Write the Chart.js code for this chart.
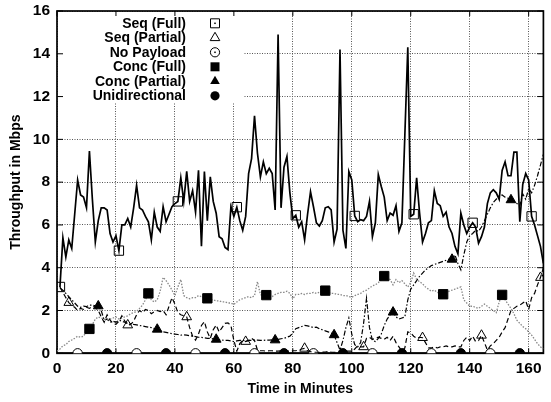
<!DOCTYPE html>
<html>
<head>
<meta charset="utf-8">
<script src="https://cdn.jsdelivr.net/npm/chart.js@4/dist/chart.umd.min.js"></script>
<style>
  html, body { margin: 0; padding: 0; background: #fff; }
  #wrap { width: 551px; height: 402px; }
</style>
</head>
<body>
<div id="wrap"><canvas id="c" width="551" height="402"></canvas></div>
<script>
// Tick values
const xTicks = [0, 20, 40, 60, 80, 100, 120, 140, 160];
const yTicks = [0, 2, 4, 6, 8, 10, 12, 14, 16];

// Sample times (one sample per minute, 0..165)
const minutes = Array.from({ length: 166 }, (_, i) => i);

// Throughput in Mbps per minute
const seqFull = [
  null, 3.1, 5.4, 4.5, 5.3, 4.9, 6.5, 8.1, 7.4, 7.3,
  6.8, 9.45, 7.2, 5.2, 6.2, 6.8, 6.8, 6.7, 5.6, 5.2,
  5.5, 4.8, 6.0, 6.0, 6.3, 5.9, 6.8, 7.85, 6.8, 6.7,
  6.4, 6.15, 5.3, 6.6, 5.9, 5.7, 6.85, 6.15, 6.5, 6.85,
  7.0, 7.1, 8.2, 7.1, 8.5, 7.1, 7.6, 6.6, 8.55, 5.0,
  8.5, 6.2, 8.25, 7.1, 6.55, 5.45, 5.35, 4.95, 4.85, 6.85,
  6.4, 6.83, 6.2, 5.75, 6.4, 8.4, 9.1, 11.1, 9.35, 8.25,
  8.95, 8.4, 8.65, 8.4, 6.7, 14.9, 6.8, 8.7, 9.2, 7.5,
  6.3, 6.45, 5.9, 6.15, 5.3, 6.5, 7.55, 6.85, 6.1, 5.95,
  6.2, 6.8, 6.85, 6.7, 5.2, 5.8, 14.2, 5.75, 4.9, 8.5,
  8.1, 6.42, 6.15, 6.25, 6.2, 6.4, 7.1, 5.45, 6.1, 8.35,
  7.8, 7.3, 6.2, 6.55, 6.45, 6.9, 5.7, 6.1, 10.2, 14.3,
  6.4, 6.5, 8.2, 6.55, 5.2, 5.6, 6.1, 6.2, 7.6, 7.0,
  6.9, 6.4, 6.6, 5.9, 5.6, 5.0, 4.65, 6.55, 6.0, 5.6,
  5.9, 6.1, 5.9, 5.15, 5.45, 5.9, 7.0, 7.5, 7.65, 7.5,
  7.2, 8.55, 8.95, 8.3, 8.3, 9.4, 9.4, 6.15, 7.9, 8.4,
  8.1, 6.4, 6.0, 5.5, 5.0, 4.2
];

const seqPartial = [
  null, 3.1, 2.85, 2.6, 2.37, 2.25, 2.15, 2.0, 2.1, 2.05,
  2.15, 2.1, 2.2, 2.15, 2.0, 1.7, 1.45, 1.8, 1.55, 1.4,
  1.35, 1.5, 1.75, 1.5, 1.32, 1.35, 1.5, 1.8, 2.0, 1.9,
  2.05, 2.0, 1.85, 1.95, 2.0, 1.95, 2.0, 1.8, 2.2, 2.6,
  2.3, 1.9, 1.8, 1.75, 1.7, 1.2, 0.8, 0.62, 0.9, 1.3,
  1.48, 1.0, 0.7, 1.1, 1.32, 1.0, 1.2, 1.4, 1.42, 1.3,
  0.6, 0.1, 0.45, 0.6, 0.55, 0.6, 0.7, 0.6, 0.15, 0.12,
  0.12, 0.1, 0.12, 0.12, 0.1, 0.1, 0.12, 0.12, 0.1, 0.1,
  0.12, 0.12, 0.15, 0.2, 0.23, 0.12, 0.08, 0.05, 0.05, 0.05,
  0.05, 0.06, 0.08, 0.06, 0.05, 0.05, 0.05, 0.06, 0.1, 0.1,
  0.1, 0.2, 0.35, 0.3, 0.3, 0.7, 0.75, 0.65, 0.7, 0.75,
  0.7, 0.65, 0.75, 0.6, 0.8, 0.5, 0.3, 0.1, 0.25, 1.0,
  0.95, 0.8, 0.7, 0.75, 0.73, 0.5, 0.25, 0.25, 0.3, 0.25,
  0.3, 0.3, 0.35, 0.3, 0.3, 0.35, 0.3, 0.3, 0.6, 0.75,
  0.6, 0.8, 0.55, 0.6, 0.84, 0.5, 0.15, 0.35, 0.45, 0.6,
  0.75, 1.0, 1.2, 1.6, 2.0, 2.1, 2.2, 2.25, 2.35, 2.45,
  2.05, 2.6, 2.8, 3.2, 3.54, 4.0
];

const concFull = [
  0.1, 0.2, 0.35, 0.4, 0.55, 0.62, 0.7, 0.8, 0.75, 0.8,
  1.0, 1.14, 1.35, 1.6, 1.7, 1.65, 1.6, 1.55, 1.6, 1.65,
  1.7, 1.6, 1.65, 1.7, 1.75, 1.85, 1.9, 1.95, 2.1, 2.25,
  2.5, 2.8, 2.5, 2.4, 2.5, 2.9, 3.55, 3.4, 3.2, 2.95,
  2.7, 3.1, 3.45, 2.7, 2.6, 2.55, 2.6, 2.6, 2.7, 2.65,
  2.6, 2.57, 2.5, 2.5, 2.45, 2.45, 2.4, 2.4, 2.35, 2.35,
  2.28, 2.4, 2.5, 2.55, 2.6, 2.65, 2.6, 2.7, 3.35, 2.75,
  2.7, 2.72, 2.7, 2.65, 2.75, 2.8, 2.85, 2.85, 2.9, 2.8,
  2.55, 2.75, 2.75, 2.8, 2.75, 2.8, 2.8, 2.85, 2.8, 2.85,
  2.9, 2.93, 2.85, 2.8, 2.8, 2.75, 2.75, 2.7, 2.7, 2.65,
  2.62, 2.7, 2.75, 2.8, 2.9, 2.95, 3.05, 3.15, 3.2, 3.3,
  3.45, 3.61, 3.5, 3.45, 3.2, 3.45, 3.3, 3.4, 3.25, 3.1,
  3.3, 3.75, 3.45, 3.35, 3.25, 3.1, 3.0, 2.9, 2.95, 2.85,
  2.8, 2.76, 2.85, 2.9, 2.95, 3.0, 3.05, 3.1, 2.5, 2.35,
  2.2, 2.2, 2.15, 2.1, 2.2, 2.3, 2.2, 2.1, 2.0, 1.9,
  2.4, 2.73, 2.5, 2.3, 2.1, 1.85, 1.55, 1.4, 1.25, 1.15,
  1.0, 0.85, 0.65, 0.45, 0.3, 0.2
];

const concPartial = [
  null, 3.05, 2.95, 2.8, 2.65, 2.5, 2.35, 2.2, 2.15, 2.2,
  2.18, 2.25, 2.25, 2.22, 2.21, 2.0, 1.55, 1.6, 1.45, 1.5,
  1.45, 1.55, 1.5, 1.45, 1.4, 1.38, 1.35, 1.33, 1.3, 1.28,
  1.25, 1.22, 1.2, 1.15, 1.12, 1.05, 1.0, 0.98, 0.95, 0.92,
  0.9, 0.88, 0.85, 0.86, 0.85, 0.82, 0.8, 0.78, 0.75, 0.74,
  0.72, 0.7, 0.7, 0.68, 0.65, 0.64, 0.62, 0.6, 0.6, 0.58,
  0.55, 0.58, 0.6, 0.6, 0.58, 0.6, 0.6, 0.62, 0.62, 0.6,
  0.6, 0.62, 0.62, 0.63, 0.62, 0.65, 0.68, 0.7, 0.75, 0.8,
  0.95, 1.15, 1.2, 1.25, 1.3, 1.28, 1.25, 1.2, 1.22, 1.15,
  1.1, 1.05, 1.0, 0.95, 0.86, 0.5, 0.15, 0.6, 1.2, 1.65,
  0.9, 0.4, 0.3, 0.5, 1.4, 2.57, 1.2, 0.6, 0.55, 0.7,
  0.9, 1.3, 1.6, 1.8, 1.92, 1.7, 1.6, 1.65, 1.7, 2.5,
  3.0, 3.2, 3.4, 3.6, 3.75, 3.9, 4.0, 4.1, 4.15, 4.2,
  4.25, 4.3, 4.35, 4.4, 4.39, 4.6, 4.2, 3.9, 4.6, 5.2,
  5.5, 5.6, 5.75, 5.7, 5.9, 6.2, 6.5, 6.8, 7.05, 7.2,
  7.35, 7.4, 7.3, 7.25, 7.17, 7.1, 7.0, 6.9, 7.45, 7.2,
  7.7, 7.5, 7.85, 8.3, 8.8, 9.3
];

// Runs that stayed at zero throughout
const noPayloadMin = [0, 7, 27, 47, 67, 87, 107, 127, 147, 165];
const noPayload = [0, 0, 0, 0, 0, 0, 0, 0, 0, 0];
const uniMin = [0, 17, 37, 57, 77, 97, 117, 137, 157, 165];
const uni = [0, 0, 0, 0, 0, 0, 0, 0, 0, 0];

const FONT = '"Liberation Sans", Arial, Helvetica, sans-serif';

function pts(xs, ys) {
  const out = [];
  xs.forEach((x, i) => { if (ys[i] !== null) out.push({ x, y: ys[i] }); });
  return out;
}

// A marker every 20 minutes, starting at a per-series offset
function markEvery(offset, r) {
  return ctx => (ctx.raw && (ctx.raw.x - offset) % 20 === 0) ? r : 0;
}

const marks = [
  { shape: 'rect', filled: false },
  { shape: 'triangle', filled: false },
  { shape: 'circle', filled: false },
  { shape: 'rect', filled: true },
  { shape: 'triangle', filled: true },
  { shape: 'circle', filled: true }
];

function drawMark(ctx, m, cx, cy) {
  ctx.beginPath();
  if (m.shape === 'rect') ctx.rect(cx - 4.5, cy - 4.5, 9, 9);
  else if (m.shape === 'triangle') {
    ctx.moveTo(cx, cy - 5.5);
    ctx.lineTo(cx + 4.8, cy + 2.8);
    ctx.lineTo(cx - 4.8, cy + 2.8);
    ctx.closePath();
  } else ctx.arc(cx, cy, 4.6, 0, Math.PI * 2);
  if (m.filled) {
    ctx.fillStyle = '#000';
    ctx.fill();
  } else {
    ctx.lineWidth = 1;
    ctx.strokeStyle = '#000';
    ctx.stroke();
    if (m.shape !== 'triangle') {
      ctx.fillStyle = '#000';
      ctx.fillRect(cx - 0.75, cy - 0.75, 1.5, 1.5);
    }
  }
}

const frame = {
  id: 'frame',
  beforeDatasetsDraw(chart) {
    const { ctx, chartArea: a, scales: { x, y } } = chart;
    ctx.save();
    // opaque key area
    ctx.fillStyle = '#fff';
    ctx.fillRect(a.left + 1, a.top + 1, 243 - a.left, 101 - a.top);
    // inward tick marks on all four sides
    ctx.strokeStyle = '#000';
    ctx.lineWidth = 1;
    ctx.beginPath();
    xTicks.forEach(v => {
      const px = x.getPixelForValue(v);
      ctx.moveTo(px, a.bottom); ctx.lineTo(px, a.bottom - 5);
      ctx.moveTo(px, a.top); ctx.lineTo(px, a.top + 5);
    });
    yTicks.forEach(v => {
      const py = y.getPixelForValue(v);
      ctx.moveTo(a.left, py); ctx.lineTo(a.left + 6, py);
      ctx.moveTo(a.right, py); ctx.lineTo(a.right - 6, py);
    });
    ctx.stroke();
    ctx.lineWidth = 1.7;
    ctx.strokeRect(a.left, a.top, a.right - a.left, a.bottom - a.top);
    ctx.restore();
  },
  afterDatasetsDraw(chart) {
    const ctx = chart.ctx;
    ctx.save();
    ctx.font = 'bold 14px ' + FONT;
    ctx.textAlign = 'right';
    ctx.textBaseline = 'middle';
    chart.data.datasets.forEach((ds, i) => {
      const cy = 23.3 + i * 14.5;
      ctx.fillStyle = '#000';
      ctx.fillText(ds.label, 186, cy + 0.5);
      drawMark(ctx, marks[i], 215, cy);
    });
    ctx.restore();
  }
};

const tickFont = { family: FONT, size: 15.5, weight: 'bold' };
const titleFont = { family: FONT, size: 14, weight: 'bold' };

new Chart(document.getElementById('c'), {
  type: 'line',
  data: {
    datasets: [
      {
        label: 'Seq (Full)', data: pts(minutes, seqFull),
        borderColor: '#000', borderWidth: 1.7,
        pointStyle: 'rect', pointRadius: markEvery(1, 6.6),
        pointBorderColor: '#000', pointBackgroundColor: 'rgba(0,0,0,0)', pointBorderWidth: 1
      },
      {
        label: 'Seq (Partial)', data: pts(minutes, seqPartial),
        borderColor: '#000', borderWidth: 1.2, borderDash: [5, 3],
        pointStyle: 'triangle', pointRadius: markEvery(4, 5.6),
        pointBorderColor: '#000', pointBackgroundColor: 'rgba(0,0,0,0)', pointBorderWidth: 1
      },
      {
        label: 'No Payload', data: pts(noPayloadMin, noPayload),
        borderColor: '#000', borderWidth: 1.7,
        pointStyle: 'circle', pointRadius: markEvery(7, 4.7),
        pointBorderColor: '#000', pointBackgroundColor: '#fff', pointBorderWidth: 1
      },
      {
        label: 'Conc (Full)', data: pts(minutes, concFull),
        borderColor: '#888', borderWidth: 1.3, borderDash: [1.5, 1.5],
        pointStyle: 'rect', pointRadius: markEvery(11, 6.6),
        pointBorderColor: '#000', pointBackgroundColor: '#000', pointBorderWidth: 1
      },
      {
        label: 'Conc (Partial)', data: pts(minutes, concPartial),
        borderColor: '#000', borderWidth: 1.2, borderDash: [5, 2, 1.5, 2],
        pointStyle: 'triangle', pointRadius: markEvery(14, 5.6),
        pointBorderColor: '#000', pointBackgroundColor: '#000', pointBorderWidth: 1
      },
      {
        label: 'Unidirectional', data: pts(uniMin, uni),
        borderColor: '#000', borderWidth: 1.7,
        pointStyle: 'circle', pointRadius: markEvery(17, 4.7),
        pointBorderColor: '#000', pointBackgroundColor: '#000', pointBorderWidth: 1
      }
    ]
  },
  options: {
    responsive: false,
    animation: false,
    events: [],
    layout: { padding: { left: 0, right: 1.5, top: 11, bottom: 0 } },
    elements: { line: { tension: 0, fill: false } },
    plugins: { legend: { display: false }, tooltip: { enabled: false } },
    scales: {
      x: {
        type: 'linear', min: 0, max: 165,
        afterBuildTicks: s => { s.ticks = xTicks.map(v => ({ value: v })); },
        afterFit: s => { s.height = 48.7; s.paddingLeft = 0; s.paddingRight = 0; },
        grid: { color: '#555', lineWidth: 1, drawTicks: false },
        border: { display: false, dash: [1, 1.5] },
        ticks: { font: tickFont, color: '#000', padding: 6, maxRotation: 0 },
        title: { display: true, text: 'Time in Minutes', font: titleFont, color: '#000', padding: { top: 0, bottom: 4 } }
      },
      y: {
        type: 'linear', min: 0, max: 16,
        afterBuildTicks: s => { s.ticks = yTicks.map(v => ({ value: v })); },
        afterFit: s => { s.width = 57; s.paddingTop = 0; s.paddingBottom = 0; },
        grid: { color: '#555', lineWidth: 1, drawTicks: false },
        border: { display: false, dash: [1, 1.5] },
        ticks: { font: tickFont, color: '#000', padding: 7 },
        title: { display: true, text: 'Throughput in Mbps', font: titleFont, color: '#000', padding: { top: 8, bottom: 0 } }
      }
    }
  },
  plugins: [frame]
});
</script>
</body>
</html>
